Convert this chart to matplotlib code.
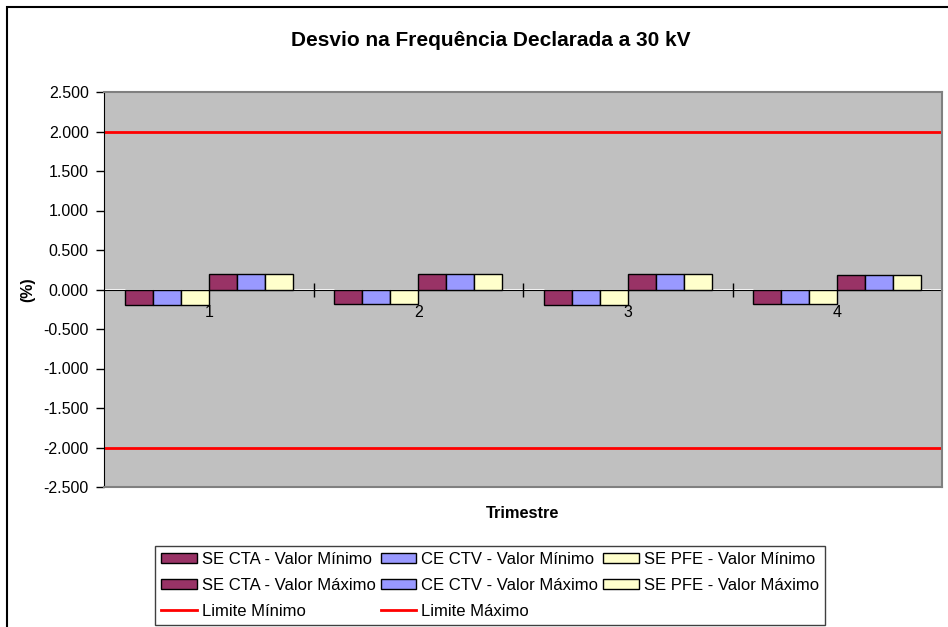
import matplotlib.pyplot as plt
from matplotlib.patches import Rectangle
from matplotlib.ticker import FixedLocator, FuncFormatter

plt.rcParams['font.family'] = ['Liberation Sans', 'DejaVu Sans']

trimestres = ['1', '2', '3', '4']

cta_min = [-0.20, -0.18, -0.20, -0.18]
ctv_min = [-0.20, -0.18, -0.20, -0.18]
pfe_min = [-0.20, -0.18, -0.20, -0.18]
cta_max = [0.19, 0.19, 0.19, 0.18]
ctv_max = [0.19, 0.19, 0.19, 0.18]
pfe_max = [0.19, 0.19, 0.19, 0.18]

limite_min = -2.0
limite_max = 2.0

series = [
    ('SE CTA - Valor Mínimo', cta_min, '#993366'),
    ('CE CTV - Valor Mínimo', ctv_min, '#9999FF'),
    ('SE PFE - Valor Mínimo', pfe_min, '#FFFFCC'),
    ('SE CTA - Valor Máximo', cta_max, '#993366'),
    ('CE CTV - Valor Máximo', ctv_max, '#9999FF'),
    ('SE PFE - Valor Máximo', pfe_max, '#FFFFCC'),
]

W, H = 948, 627
fig = plt.figure(figsize=(W / 100, H / 100), dpi=100)
ax = fig.add_axes([104 / W, 1 - 487 / H, (942 - 104) / W, (487 - 92) / H])
ax.set_facecolor('#C0C0C0')

# outer chart border (only left/top visible in the original)
fig.patches.append(Rectangle((7 / W, -0.1), 1.2, 1 - 7 / H + 0.1, transform=fig.transFigure,
                             fill=False, edgecolor='black', linewidth=1.5))

x = list(range(len(trimestres)))
bw = 0.8 / len(series)
handles = {}
for i, (name, vals, col) in enumerate(series):
    pos = [c - 0.4 + bw * (i + 0.5) for c in x]
    h = ax.bar(pos, vals, bw, color=col, edgecolor='black', linewidth=1, label=name, zorder=3)
    handles[name] = h

l1 = ax.axhline(limite_min, color='#FF0000', linewidth=2, label='Limite Mínimo', zorder=2)
l2 = ax.axhline(limite_max, color='#FF0000', linewidth=2, label='Limite Máximo', zorder=2)

ax.set_xlim(-0.5, len(trimestres) - 0.5)
ax.set_ylim(-2.5, 2.5)
ax.set_yticks([-2.5 + 0.5 * k for k in range(11)])
ax.yaxis.set_major_formatter(FuncFormatter(lambda v, p: '%.3f' % v))
ax.tick_params(axis='y', direction='out', length=6, width=1, labelsize=11.5, pad=5, color='black')
ax.tick_params(axis='x', bottom=False, labelbottom=False)

for s in ['top', 'right', 'bottom']:
    ax.spines[s].set_color('#808080')
    ax.spines[s].set_linewidth(1.5)
ax.spines['left'].set_color('black')

# category axis crossing at zero
sec = ax.secondary_xaxis(0.5)
sec.set_alignment('bottom')
sec.spines['bottom'].set_color('black')
sec.xaxis.set_major_locator(FixedLocator([c + 0.5 for c in x[:-1]]))
sec.xaxis.set_major_formatter(FuncFormatter(lambda v, p: ''))
sec.xaxis.set_minor_locator(FixedLocator(x))
sec.xaxis.set_minor_formatter(FuncFormatter(lambda v, p: trimestres[int(round(v))]))
sec.tick_params(which='major', direction='inout', length=10, width=1, color='black')
sec.tick_params(which='minor', length=0, labelsize=11.5, pad=11)

ax.set_ylabel('(%)', fontsize=11.5, fontweight='bold')
ax.yaxis.set_label_coords(-0.082, 0.5)

fig.text(523 / W, 1 - 514 / H, 'Trimestre', ha='center', va='center', fontsize=11.8, fontweight='bold')
fig.text(491 / W, 1 - 41 / H, 'Desvio na Frequência Declarada a 30 kV', ha='center', va='center',
         fontsize=15, fontweight='bold')

order = [handles['SE CTA - Valor Mínimo'], handles['SE CTA - Valor Máximo'], l1,
         handles['CE CTV - Valor Mínimo'], handles['CE CTV - Valor Máximo'], l2,
         handles['SE PFE - Valor Mínimo'], handles['SE PFE - Valor Máximo']]
leg = fig.legend(handles=order, labels=[h.get_label() for h in order], ncol=3,
                 loc='upper left', bbox_to_anchor=(155 / W, 1 - 546 / H),
                 fontsize=12, frameon=True, fancybox=False, framealpha=1,
                 edgecolor='#404040', handlelength=2.15, handleheight=0.55,
                 handletextpad=0.3, columnspacing=0.3, labelspacing=0.66,
                 borderpad=0.35, borderaxespad=0)
leg.get_frame().set_linewidth(1)

fig.savefig('out.png', dpi=100)
